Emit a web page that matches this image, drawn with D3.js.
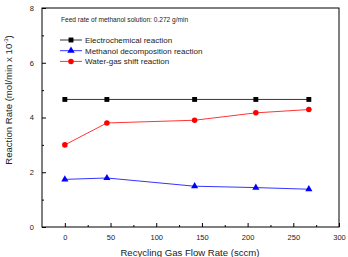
<!DOCTYPE html>
<html>
<head>
<meta charset="utf-8">
<script src="https://cdn.jsdelivr.net/npm/d3@7"></script>
<style>
  body { margin: 0; background: #fff; }
  text { font-family: "Liberation Sans", Arial, sans-serif; }
</style>
</head>
<body>
<div id="chart"></div>
<script>
var width = 348,
  height = 257;

// Data
var flowRate = [0, 46, 142, 209, 267];
var electrochemical = [4.66, 4.66, 4.66, 4.66, 4.66];
var methanolDecomp = [1.74, 1.79, 1.49, 1.44, 1.38];
var waterGasShift = [3.0, 3.8, 3.9, 4.17, 4.29];

var seriesNames = [
  "Electrochemical reaction",
  "Methanol decomposition reaction",
  "Water-gas shift reaction",
];
var seriesColors = ["#000000", "#0000ff", "#ff0000"];
var seriesSymbols = [d3.symbolSquare, d3.symbolTriangle, d3.symbolCircle];
var seriesValues = [electrochemical, methanolDecomp, waterGasShift];

var xTicks = [0, 50, 100, 150, 200, 250, 300];
var yTicks = [0, 2, 4, 6, 8];

var margin = { left: 42, top: 8, right: 9, bottom: 30 };

var svg = d3
  .select("#chart")
  .append("svg")
  .attr("width", width)
  .attr("height", height);

var x = d3
  .scaleLinear()
  .domain([-25, 300])
  .range([margin.left, width - margin.right]);
var y = d3
  .scaleLinear()
  .domain([0, 8])
  .range([height - margin.bottom, margin.top]);

// frame
svg
  .append("rect")
  .attr("x", x(-25))
  .attr("y", y(8))
  .attr("width", x(300) - x(-25))
  .attr("height", y(0) - y(8))
  .attr("fill", "none")
  .attr("stroke", "#000")
  .attr("stroke-width", 1);

// x axis (ticks pointing up, inside)
var xAxis = svg
  .append("g")
  .attr("transform", "translate(0," + y(0) + ")")
  .call(d3.axisBottom(x).tickValues(xTicks).tickSize(-4).tickPadding(8));
xAxis.select(".domain").remove();
xAxis.selectAll("text").style("font-size", "7.5px").attr("fill", "#222");
svg
  .append("g")
  .attr("transform", "translate(0," + y(0) + ")")
  .call(d3.axisBottom(x).tickValues([25, 75, 125, 175, 225, 275]).tickSize(-2).tickFormat(""))
  .select(".domain")
  .remove();

// y axis
var yAxis = svg
  .append("g")
  .attr("transform", "translate(" + x(-25) + ",0)")
  .call(d3.axisLeft(y).tickValues(yTicks).tickSize(-4).tickPadding(8));
yAxis.select(".domain").remove();
yAxis.selectAll("text").style("font-size", "7.5px").attr("fill", "#222");
svg
  .append("g")
  .attr("transform", "translate(" + x(-25) + ",0)")
  .call(d3.axisLeft(y).tickValues([1, 3, 5, 7]).tickSize(-2).tickFormat(""))
  .select(".domain")
  .remove();

// series
var line = d3
  .line()
  .x(function (d, i) {
    return x(flowRate[i]);
  })
  .y(function (d) {
    return y(d);
  });

seriesValues.forEach(function (vals, k) {
  svg
    .append("path")
    .attr("d", line(vals))
    .attr("fill", "none")
    .attr("stroke", seriesColors[k])
    .attr("stroke-width", 0.8);
  svg
    .selectAll(".pt" + k)
    .data(vals)
    .enter()
    .append("path")
    .attr("d", d3.symbol().type(seriesSymbols[k]).size(k == 1 ? 22 : 24))
    .attr("transform", function (d, i) {
      return "translate(" + x(flowRate[i]) + "," + y(d) + ")";
    })
    .attr("fill", seriesColors[k]);
});

// annotation
svg
  .append("text")
  .attr("x", 61)
  .attr("y", 21.5)
  .style("font-size", "6.6px")
  .attr("fill", "#222")
  .text("Feed rate of methanol solution: 0.272 g/min");

// legend
seriesNames.forEach(function (name, k) {
  var ly = 40 + 10.7 * k;
  svg
    .append("line")
    .attr("x1", 60)
    .attr("x2", 82)
    .attr("y1", ly)
    .attr("y2", ly)
    .attr("stroke", seriesColors[k])
    .attr("stroke-width", 0.8);
  svg
    .append("path")
    .attr("d", d3.symbol().type(seriesSymbols[k]).size(24))
    .attr("transform", "translate(71," + ly + ")")
    .attr("fill", seriesColors[k]);
  svg
    .append("text")
    .attr("x", 85)
    .attr("y", ly + 3)
    .style("font-size", "8px")
    .attr("fill", "#222")
    .text(name);
});

// axis titles
svg
  .append("text")
  .attr("x", 190)
  .attr("y", 256)
  .attr("text-anchor", "middle")
  .style("font-size", "9.6px")
  .attr("fill", "#222")
  .text("Recycling Gas Flow Rate (sccm)");

var yl = svg
  .append("text")
  .attr("transform", "translate(12,100) rotate(-90)")
  .attr("text-anchor", "middle")
  .style("font-size", "9.6px")
  .attr("fill", "#222");
yl.append("tspan").text("Reaction Rate (mol/min x 10");
yl.append("tspan").attr("dy", -4).style("font-size", "6px").text("-3");
yl.append("tspan").attr("dy", 4).text(")");
</script>
</body>
</html>
